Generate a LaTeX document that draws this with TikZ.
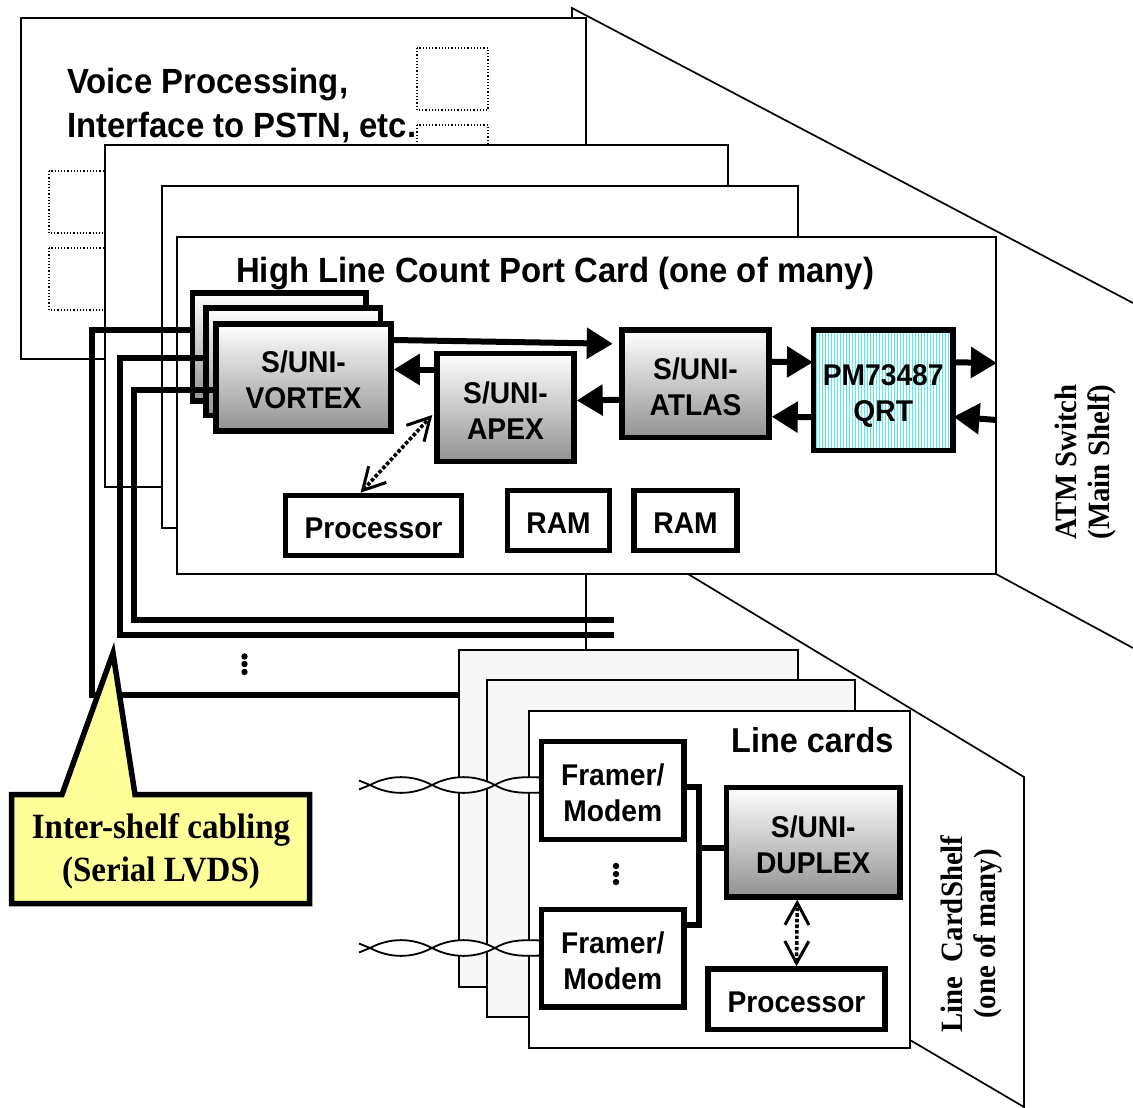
\documentclass[tikz,border=0pt]{standalone}
\usepackage{fontspec}
\usepackage{tikz}
\usetikzlibrary{arrows.meta,patterns.meta}
\setmainfont{Liberation Sans}[FakeStretch=0.94]
\newfontfamily\shelffont{Liberation Serif}[FakeStretch=0.93]
\definecolor{calloutyellow}{RGB}{255,255,153}
\definecolor{linecardgray}{RGB}{247,247,247}
\definecolor{chipgray}{RGB}{145,145,145}
\definecolor{qrtcyan}{RGB}{80,240,240}
\tikzset{
  card/.style={draw,line width=1.7pt,fill=white,inner sep=0pt},
  chip/.style={draw,line width=5.5pt,inner sep=0pt,align=center,font=\bfseries\fontsize{30}{36}\selectfont,execute at begin node={\rule{0pt}{26pt}}},
  twoline/.style={execute at begin node={\rule{0pt}{63pt}}},
  gradchip/.style={chip,twoline,top color=white,bottom color=chipgray},
  plainchip/.style={chip,fill=white},
  cardtitle/.style={align=left,inner sep=0pt,font=\bfseries\fontsize{35}{43.5}\selectfont},
  shelflabel/.style={rotate=90,align=center,inner sep=0pt,font=\shelffont\bfseries\fontsize{31}{33}\selectfont},
  shelfline/.style={line width=1.7pt},
  cable/.style={line width=6pt},
  bigarrow/.style={line width=6pt,-{Triangle[length=26pt,width=30pt]}},
  dotarrow/.style={line width=3.6pt,dotted,{Straight Barb[length=22pt,width=24pt,line width=3pt]}-{Straight Barb[length=22pt,width=24pt,line width=3pt]}},
  twist/.style={line width=1.8pt,fill=white}
}
\begin{document}
\begin{tikzpicture}[x=1pt,y=-1pt]
  \useasboundingbox (0,0) rectangle (1133,1108);
  \draw[shelfline] (572,18)--(572,8)--(1133,303);
  \draw[shelfline] (996,574)--(1133,648);
  \node[card,minimum width=565pt,minimum height=341pt] (voicecard) at (303.5,188.5) {};
  \foreach \x/\y in {417/48,417/125,49/171,49/248}{
    \draw[dotted,line width=1.2pt] (\x,\y) rectangle (\x+71,\y+62);}
  \node[cardtitle,anchor=west] (voicetitle) at (67,105.5) {Voice Processing,\\Interface to PSTN, etc.};
  \node[card,minimum width=623pt,minimum height=342pt] (cardtwo) at (416.5,316) {};
  \node[card,minimum width=636pt,minimum height=342pt] (cardthree) at (480,357) {};
  \node[card,minimum width=819pt,minimum height=337pt] (portcard) at (586.5,405.5) {};
  \node[cardtitle,anchor=west] (porttitle) at (236,274) {High Line Count Port Card (one of many)};
  \node[gradchip,minimum width=173.5pt,minimum height=108pt] (vortexback) at (279.25,347) {};
  \node[gradchip,minimum width=174.5pt,minimum height=107.5pt] (vortexmid) at (293.25,361.75) {};
  \node[gradchip,minimum width=175pt,minimum height=107pt] (vortex) at (303.5,377.5) {S/UNI-\\VORTEX};
  \node[gradchip,minimum width=137pt,minimum height=108pt] (apex) at (505.5,407.5) {S/UNI-\\APEX};
  \node[gradchip,minimum width=147pt,minimum height=107.5pt] (atlas) at (695.5,383.75) {S/UNI-\\ATLAS};
  \node[chip,preaction={fill=white},pattern={Lines[angle=90,distance=3pt,line width=1pt]},pattern color=qrtcyan,minimum width=139.5pt,minimum height=120.5pt,execute at begin node={\rule{0pt}{69pt}}] (qrt) at (883.25,390.25) {PM73487\\QRT};
  \node[plainchip,minimum width=176pt,minimum height=60pt] (portproc) at (373.5,525.5) {Processor};
  \node[plainchip,minimum width=102pt,minimum height=60pt] (ramone) at (558.5,520.5) {RAM};
  \node[plainchip,minimum width=103pt,minimum height=60pt] (ramtwo) at (685.5,520.5) {RAM};
  \draw[bigarrow] ([yshift=37.5pt]vortex.east)--([xshift=-6.5pt,yshift=40pt]atlas.west);
  \draw[bigarrow] ([yshift=38pt]apex.west)--([yshift=8pt]vortex.east);
  \draw[bigarrow] ([yshift=-16pt]atlas.west)--([yshift=7pt]apex.east);
  \draw[bigarrow] ([yshift=22pt]atlas.east)--([yshift=28pt]qrt.west);
  \draw[bigarrow] ([yshift=-27pt]qrt.west)--([yshift=-33pt]atlas.east);
  \draw[bigarrow] ([yshift=28pt]qrt.east)--([yshift=42.5pt]portcard.east);
  \draw[bigarrow] ([yshift=-14.5pt]portcard.east)--([yshift=-26.5pt]qrt.east);
  \draw[dotarrow] ([xshift=-13pt]portproc.north)--([xshift=-2pt,yshift=-7.5pt]apex.west);
  \draw[shelfline] (688,574)--(1024,777)--(1024,1107)--(910,1040);
  \node[card,fill=linecardgray,minimum width=339pt,minimum height=337pt] (linecardone) at (628.5,818.5) {};
  \node[card,fill=linecardgray,minimum width=368pt,minimum height=337pt] (linecardtwo) at (671,848.5) {};
  \node[card,minimum width=381pt,minimum height=337pt] (linecard) at (719.5,879.5) {};
  \draw[shelfline] (586,574)--(586,650);
  \coordinate (cabletwoend) at (614,635);
  \coordinate (cablethreeend) at (614,620);
  \draw[cable] ([yshift=17pt]vortexback.west) -| (92,695) -- ([yshift=123.5pt]linecardone.west);
  \draw[cable] ([yshift=3.75pt]vortexmid.west) -| (120,635) -- (cabletwoend);
  \draw[cable] ([yshift=-12.5pt]vortex.west) -| (133.5,620) -- (cablethreeend);
  \foreach \x/\y in {244.5/656.5,244.5/664,244.5/672,616/866,616/874,616/882}{
    \fill (\x,\y) circle (3.2);}
  \draw[line width=5.5pt,fill=calloutyellow] (11.5,794.5)--(62,794.5)--(113,653)--(135,794.5)--(309.5,794.5)--(309.5,903.5)--(11.5,903.5)--cycle;
  \node[align=center,inner sep=0pt,font=\shelffont\bfseries\fontsize{35.5}{43}\selectfont] (calloutlabel) at (161,851.5) {Inter-shelf cabling\\(Serial LVDS)};
  \node[cardtitle,anchor=west,font=\bfseries\fontsize{34.5}{40}\selectfont] (linetitle) at (731,740) {Line cards};
  \foreach \f/\t in {framerone/785,framertwo/948}{
    \draw[twist] (359,\t-4.5)--(370,\t)--(359,\t+4.5);
    \draw[twist] (370,\t) .. controls (390,\t-10.5) and (412,\t-10.5) .. (432,\t) .. controls (412,\t+10.5) and (390,\t+10.5) .. (370,\t);
    \draw[twist] (432,\t) .. controls (452,\t-10.5) and (475,\t-10.5) .. (495,\t) .. controls (475,\t+10.5) and (452,\t+10.5) .. (432,\t);
    \draw[twist] (495,\t) .. controls (510,\t-9) and (525,\t-8) .. (542,\t-7.5)--(542,\t+7.5) .. controls (525,\t+8) and (510,\t+9) .. (495,\t);}
  \node[plainchip,twoline,minimum width=142.5pt,minimum height=98pt] (framerone) at (612.75,790.5) {Framer/\\Modem};
  \node[plainchip,twoline,minimum width=142.5pt,minimum height=97.5pt] (framertwo) at (612.75,958.25) {Framer/\\Modem};
  \node[gradchip,minimum width=173.5pt,minimum height=109.5pt] (duplex) at (813.25,842.25) {S/UNI-\\DUPLEX};
  \node[plainchip,minimum width=177pt,minimum height=60.5pt] (lineproc) at (796.5,999.25) {Processor};
  \draw[cable] ([yshift=3.5pt]framerone.east) -| (699,925) -- ([yshift=33.25pt]framertwo.east);
  \draw[cable] ([yshift=-5.75pt]duplex.west) -- ++(-26,0);
  \draw[dotarrow] (lineproc.north)--([xshift=-16pt]duplex.south);
  \node[shelflabel] (mainshelf) at (1085.5,462) {ATM Switch\\(Main Shelf)};
  \node[shelflabel] (lineshelf) at (971,934) {Line~~CardShelf\\(one of many)};
\end{tikzpicture}
\end{document}
